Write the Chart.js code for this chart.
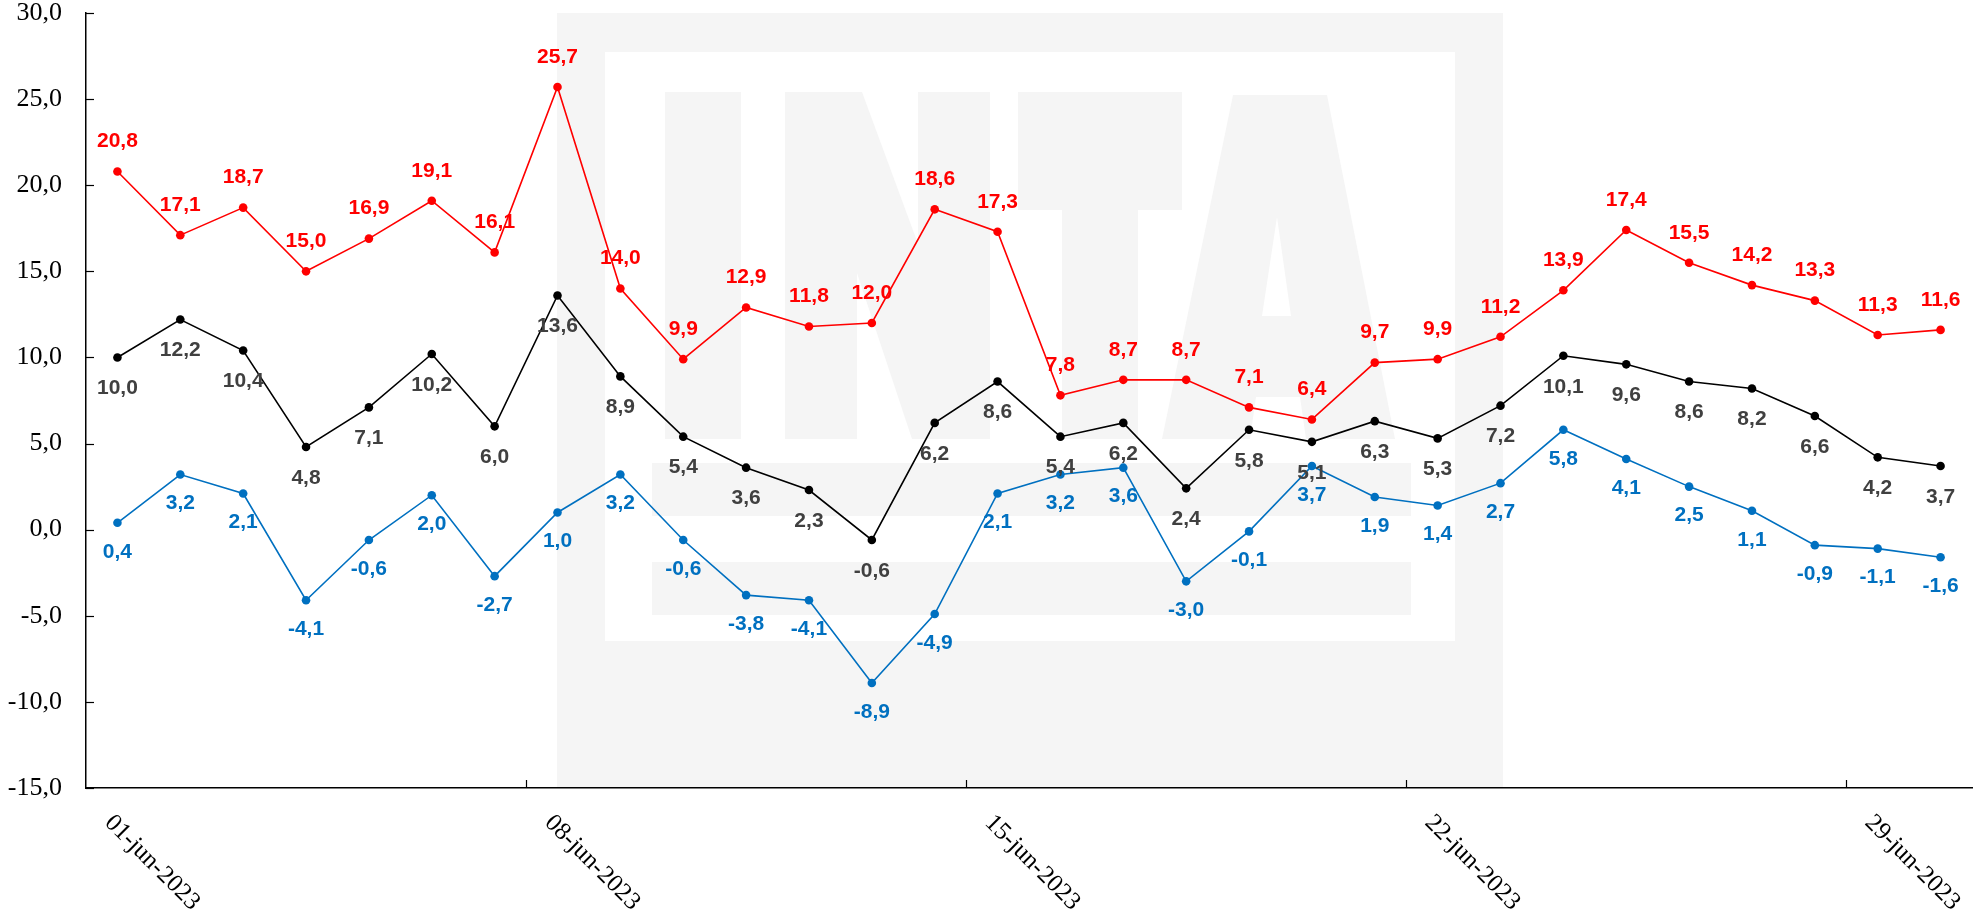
<!DOCTYPE html>
<html>
<head>
<meta charset="utf-8">
<script src="https://cdn.jsdelivr.net/npm/chart.js@4.4.0/dist/chart.umd.min.js"></script>
<style>
  html, body { margin: 0; padding: 0; background: #fff; }
</style>
</head>
<body>
<canvas id="chart" width="1977" height="916"></canvas>
<script>
// Temperaturas diarias, junio 2023
const days = [
  '01-jun-2023', '02-jun-2023', '03-jun-2023', '04-jun-2023', '05-jun-2023',
  '06-jun-2023', '07-jun-2023', '08-jun-2023', '09-jun-2023', '10-jun-2023',
  '11-jun-2023', '12-jun-2023', '13-jun-2023', '14-jun-2023', '15-jun-2023',
  '16-jun-2023', '17-jun-2023', '18-jun-2023', '19-jun-2023', '20-jun-2023',
  '21-jun-2023', '22-jun-2023', '23-jun-2023', '24-jun-2023', '25-jun-2023',
  '26-jun-2023', '27-jun-2023', '28-jun-2023', '29-jun-2023', '30-jun-2023'
];

const tMax = [20.8, 17.1, 18.7, 15.0, 16.9, 19.1, 16.1, 25.7, 14.0, 9.9,
              12.9, 11.8, 12.0, 18.6, 17.3, 7.8, 8.7, 8.7, 7.1, 6.4,
              9.7, 9.9, 11.2, 13.9, 17.4, 15.5, 14.2, 13.3, 11.3, 11.6];

const tMed = [10.0, 12.2, 10.4, 4.8, 7.1, 10.2, 6.0, 13.6, 8.9, 5.4,
              3.6, 2.3, -0.6, 6.2, 8.6, 5.4, 6.2, 2.4, 5.8, 5.1,
              6.3, 5.3, 7.2, 10.1, 9.6, 8.6, 8.2, 6.6, 4.2, 3.7];

const tMin = [0.4, 3.2, 2.1, -4.1, -0.6, 2.0, -2.7, 1.0, 3.2, -0.6,
              -3.8, -4.1, -8.9, -4.9, 2.1, 3.2, 3.6, -3.0, -0.1, 3.7,
              1.9, 1.4, 2.7, 5.8, 4.1, 2.5, 1.1, -0.9, -1.1, -1.6];

const yMin = -15, yMax = 30, yStep = 5;
const labelEvery = 7;

function fmt(v) { return v.toFixed(1).replace('.', ','); }

// marca de agua INTA (en pixeles de la imagen original, se escala al area del grafico)
const REF = { left: 86, top: 13, width: 1886, height: 775 };
const wmGray = '#f5f5f5';

const watermark = {
  id: 'watermark',
  beforeDraw(chart) {
    const ca = chart.chartArea, c = chart.ctx;
    const X = x => ca.left + (x - REF.left) / REF.width * ca.width;
    const Y = y => ca.top + (y - REF.top) / REF.height * ca.height;
    function rect(x1, y1, x2, y2, col) {
      c.fillStyle = col;
      c.fillRect(X(x1), Y(y1), X(x2) - X(x1), Y(y2) - Y(y1));
    }
    function poly(pts, col) {
      c.fillStyle = col;
      c.beginPath();
      pts.forEach(function(p, i) { if (i) c.lineTo(X(p[0]), Y(p[1])); else c.moveTo(X(p[0]), Y(p[1])); });
      c.closePath();
      c.fill();
    }
    c.save();
    rect(557, 13, 1503, 788, wmGray);
    rect(605, 52, 1455, 641, '#ffffff');
    // I
    rect(665, 92, 741, 439, wmGray);
    // N
    rect(785, 92, 857, 439, wmGray);
    rect(918, 92, 990, 439, wmGray);
    poly([[797, 92], [862, 92], [990, 439], [912, 439]], wmGray);
    // T
    rect(1018, 92, 1182, 210, wmGray);
    rect(1062, 92, 1138, 439, wmGray);
    // A
    poly([[1233, 95], [1327, 95], [1395, 439], [1162, 439]], wmGray);
    poly([[1277, 217], [1291, 316], [1262, 316]], '#ffffff');
    poly([[1256, 397], [1300, 397], [1306, 439], [1250, 439]], '#ffffff');
    // barras
    rect(652, 463, 1411, 516, wmGray);
    rect(652, 562, 1411, 615, wmGray);
    c.restore();
  }
};

// marcas hacia adentro y etiquetas de fecha rotadas
const axisExtras = {
  id: 'axisExtras',
  afterDraw(chart) {
    const ca = chart.chartArea, c = chart.ctx;
    const xs = chart.scales.x, ys = chart.scales.y;
    c.save();
    c.strokeStyle = '#000';
    c.lineWidth = 1.2;
    ys.ticks.forEach(function(t) {
      const y = Math.round(ys.getPixelForValue(t.value)) + 0.5;
      c.beginPath(); c.moveTo(ca.left, y); c.lineTo(ca.left + 8, y); c.stroke();
    });
    for (let i = labelEvery; i < days.length; i += labelEvery) {
      const x = Math.round((xs.getPixelForValue(i - 1) + xs.getPixelForValue(i)) / 2) + 0.5;
      c.beginPath(); c.moveTo(x, ca.bottom); c.lineTo(x, ca.bottom - 8); c.stroke();
    }
    c.fillStyle = '#000';
    c.font = '25px "Liberation Serif", "Times New Roman", serif';
    c.textAlign = 'left';
    c.textBaseline = 'middle';
    for (let i = 0; i < days.length; i += labelEvery) {
      const x = xs.getPixelForValue(i);
      c.save();
      c.translate(x - 9, ca.bottom + 31);
      c.rotate(Math.PI / 4);
      c.fillText(days[i], 0, 0);
      c.restore();
    }
    c.restore();
  }
};

// etiquetas de datos
const labelOffsets = [-30, 31, 29];
const labelColors = ['#ff0000', '#404040', '#0070c0'];

const dataLabels = {
  id: 'dataLabels',
  afterDatasetsDraw(chart) {
    const c = chart.ctx;
    c.save();
    c.font = 'bold 21px "Liberation Sans", Arial, sans-serif';
    c.textAlign = 'center';
    c.textBaseline = 'middle';
    chart.data.datasets.forEach(function(ds, di) {
      const meta = chart.getDatasetMeta(di);
      c.fillStyle = labelColors[di];
      meta.data.forEach(function(pt, i) {
        c.fillText(fmt(ds.data[i]), pt.x, pt.y + labelOffsets[di]);
      });
    });
    c.restore();
  }
};

function series(label, data, color) {
  return {
    label: label,
    data: data,
    borderColor: color,
    backgroundColor: color,
    borderWidth: 1.6,
    pointRadius: 4.3,
    pointHoverRadius: 4.3,
    pointBorderWidth: 0,
    tension: 0
  };
}

new Chart(document.getElementById('chart'), {
  type: 'line',
  data: {
    labels: days,
    datasets: [
      series('Máxima', tMax, '#ff0000'),
      series('Media', tMed, '#000000'),
      series('Mínima', tMin, '#0070c0')
    ]
  },
  options: {
    responsive: false,
    animation: false,
    devicePixelRatio: 1,
    layout: { padding: { top: 13, right: 5, left: 0, bottom: 0 } },
    plugins: { legend: { display: false }, tooltip: { enabled: false } },
    scales: {
      x: {
        offset: true,
        grid: { display: false, drawTicks: false },
        border: { display: true, color: '#000', width: 1.5 },
        ticks: { display: false },
        afterFit: function(scale) { scale.height = 128; }
      },
      y: {
        min: yMin,
        max: yMax,
        grid: { display: false, drawTicks: true, tickLength: 24 },
        border: { display: true, color: '#000', width: 1.5 },
        ticks: {
          stepSize: yStep,
          padding: 0,
          color: '#000',
          font: { family: '"Liberation Serif", "Times New Roman", serif', size: 26, lineHeight: 1 },
          callback: function(v) { return fmt(v); }
        },
        afterFit: function(scale) { scale.width = 86; }
      }
    }
  },
  plugins: [watermark, axisExtras, dataLabels]
});
</script>
</body>
</html>
